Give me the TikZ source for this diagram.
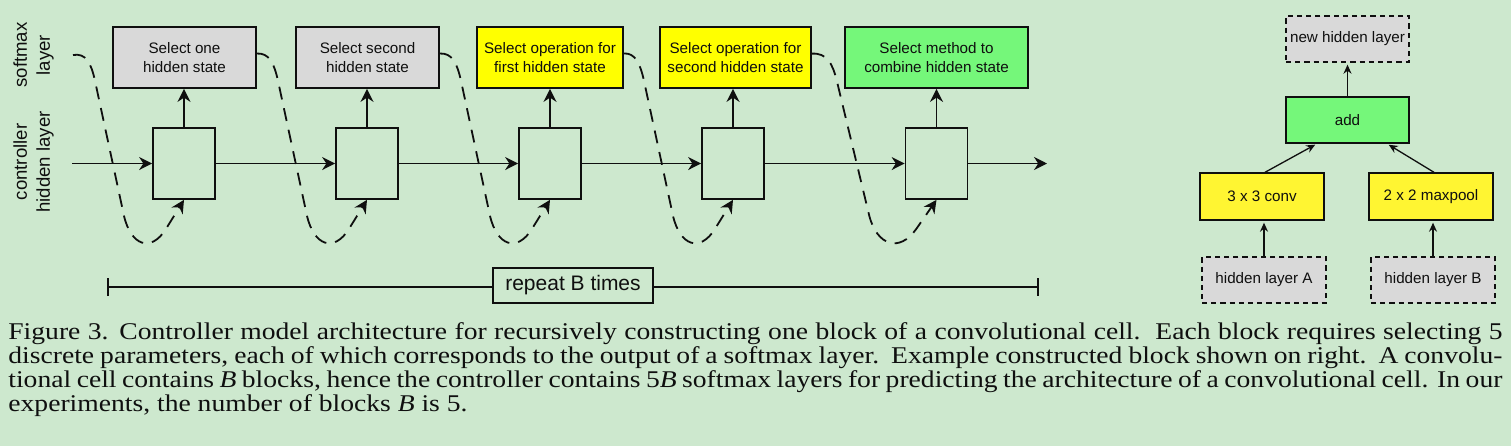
\documentclass[tikz,border=0pt]{standalone}
\usepackage{fontspec}
\setmainfont{Liberation Serif}
\newfontfamily\diagfont{Liberation Sans}
\newfontfamily\capfont[FakeStretch=1.15]{Liberation Serif}
\usetikzlibrary{arrows.meta,calc}
\definecolor{bgc}{RGB}{205,232,206}
\definecolor{boxgray}{RGB}{217,217,217}
\definecolor{boxyel}{RGB}{255,255,0}
\definecolor{boxyelb}{RGB}{255,245,50}
\definecolor{boxgrn}{RGB}{117,247,122}
\definecolor{inkc}{RGB}{15,15,15}
\begin{document}
\begin{tikzpicture}[x=0.5pt,y=-0.5pt,
  smbox/.style={draw=inkc, line width=0.85pt, minimum height=30.5pt, inner sep=0pt, align=center,
    font=\diagfont\fontsize{7.6}{9.5}\selectfont, text=inkc},
  hbox/.style={draw=inkc, line width=0.85pt, minimum width=31pt, minimum height=35.5pt, inner sep=0pt},
  flow/.style={draw=inkc, line width=0.95pt, -{Stealth[length=6.5pt,width=6.5pt]}},
  dcurve/.style={draw=inkc, line width=0.9pt, dash pattern=on 6.5pt off 4.5pt, -{Stealth[length=6.5pt,width=6.5pt]}},
  sidelbl/.style={rotate=90, align=center, inner sep=0pt, font=\diagfont\fontsize{9.3}{11.5}\selectfont, text=inkc},
  exbox/.style={draw=inkc, line width=0.7pt, minimum width=61.5pt, minimum height=23pt, inner sep=0pt,
    font=\diagfont\fontsize{7.6}{9.5}\selectfont, text=inkc},
  dexbox/.style={exbox, fill=boxgray, dash pattern=on 2.6pt off 2pt},
  thin/.style={draw=inkc, line width=0.65pt, -{Stealth[length=4.5pt,width=4pt]}},
  capline/.style={anchor=base west, inner sep=0pt, text=inkc, font=\capfont\fontsize{12pt}{12pt}\selectfont},
]
\fill[bgc] (0,0) rectangle (1511,446);
\useasboundingbox (0,0) rectangle (1511,446);

% side labels
\node[sidelbl] (lsoft) at (33.5,55) {softmax\\layer};
\node[sidelbl] (lctrl) at (33.5,162) {controller\\hidden layer};

% softmax boxes
\node[smbox, fill=boxgray, minimum width=71.5pt] (s1) at (184.5,57.5) {Select one\\hidden state};
\node[smbox, fill=boxgray, minimum width=71.5pt] (s2) at (367.5,57.5) {Select second\\hidden state};
\node[smbox, fill=boxyel, minimum width=73pt] (s3) at (550,57.5) {Select operation for\\first hidden state};
\node[smbox, fill=boxyel, minimum width=75.5pt] (s4) at (735.5,57.5) {Select operation for\\second hidden state};
\node[smbox, fill=boxgrn, minimum width=91.5pt] (s5) at (936.5,57.5) {Select method to\\combine hidden state};

% hidden squares
\node[hbox] (h1) at (184,163.5) {};
\node[hbox] (h2) at (367,163.5) {};
\node[hbox] (h3) at (550,163.5) {};
\node[hbox] (h4) at (733,163.5) {};
\node[hbox] (h5) at (936.5,163.5) {};

\coordinate (cin) at (72,163.5);
\coordinate (cout) at (1047,163.5);
\coordinate (c0) at (73,55);

% horizontal chain
\draw[flow] (cin) -- (h1.west);
\draw[flow] (h1.east) -- (h2.west);
\draw[flow] (h2.east) -- (h3.west);
\draw[flow] (h3.east) -- (h4.west);
\draw[flow] (h4.east) -- (h5.west);
\draw[flow] (h5.east) -- (cout);

% vertical arrows
\foreach \i in {1,...,5}{
  \draw[flow] (h\i.north) -- (h\i.north |- s\i.south);
}

% dashed recurrent curves
\foreach \s/\h/\k in {c0/h1/1, s1/h2/1, s2/h3/1, s3/h4/1, s4/h5/1.12}{
  \draw[dcurve] (\s)
    .. controls ($(\h.south)+({-98*\k},-147)$) and ($(\h.south)+({-93*\k},-137)$) .. ($(\h.south)+({-89*\k},-119)$)
    -- ($(\h.south)+({-60*\k},16)$)
    .. controls ($(\h.south)+({-53*\k},46)$) and ($(\h.south)+({-33*\k},53)$) .. ($(\h.south)+({-18*\k},29)$)
    -- (\h.south);
}

% repeat bar
\node[draw=inkc, line width=0.8pt, fill=bgc, minimum width=80pt, minimum height=17.5pt, inner sep=0pt,
  font=\diagfont\fontsize{10.5}{12}\selectfont, text=inkc] (rep) at (573,285.5) {repeat B times};
\coordinate (rl) at (107,287);
\coordinate (rr) at (1039,287);
\draw[draw=inkc, line width=1pt, {Bar[width=9pt,line width=1pt]}-] (rl) -- (rl -| rep.west);
\draw[draw=inkc, line width=1pt, -{Bar[width=9pt,line width=1pt]}] (rr -| rep.east) -- (rr);

% example block
\node[dexbox] (nhl) at (1347.5,39) {new hidden layer};
\node[exbox, fill=boxgrn] (add) at (1347.5,120) {add};
\node[exbox, fill=boxyelb, minimum width=62pt, minimum height=23.5pt] (conv) at (1262,196.5) {3 x 3 conv};
\node[exbox, fill=boxyelb, minimum width=62pt, minimum height=23.5pt] (mpool) at (1431,196.5) {2 x 2 maxpool};
\node[dexbox, minimum width=62pt] (hA) at (1264,280) {hidden layer A};
\node[dexbox, minimum width=62pt] (hB) at (1433,280) {hidden layer B};

\draw[thin, shorten >=1pt] (add.north) -- (nhl.south);
\draw[thin, shorten >=1pt] ([xshift=1.5pt]conv.north) -- ([xshift=-15.25pt]add.south);
\draw[thin, shorten >=1pt] ([xshift=1.5pt]mpool.north) -- ([xshift=19.75pt]add.south);
\draw[thin, shorten >=1pt] (hA.north) -- (hA.north |- conv.south);
\draw[thin, shorten >=1pt] (hB.north) -- (hB.north |- mpool.south);

% caption, one node per line
\node[capline] (cap1) at (8,339) {\makebox[747pt][s]{Figure 3. Controller model architecture for recursively constructing one block of a convolutional cell.\ \ Each block requires selecting 5}};
\node[capline] (cap2) at (8,363) {\makebox[747pt][s]{discrete parameters, each of which corresponds to the output of a softmax layer.\ \ Example constructed block shown on right.\ \ A convolu-}};
\node[capline] (cap3) at (8,387) {\makebox[747pt][s]{tional cell contains \textit{B} blocks, hence the controller contains 5\textit{B} softmax layers for predicting the architecture of a convolutional cell. In our}};
\node[capline] (cap4) at (8,411) {experiments, the number of blocks \textit{B} is 5.};
\end{tikzpicture}
\end{document}
